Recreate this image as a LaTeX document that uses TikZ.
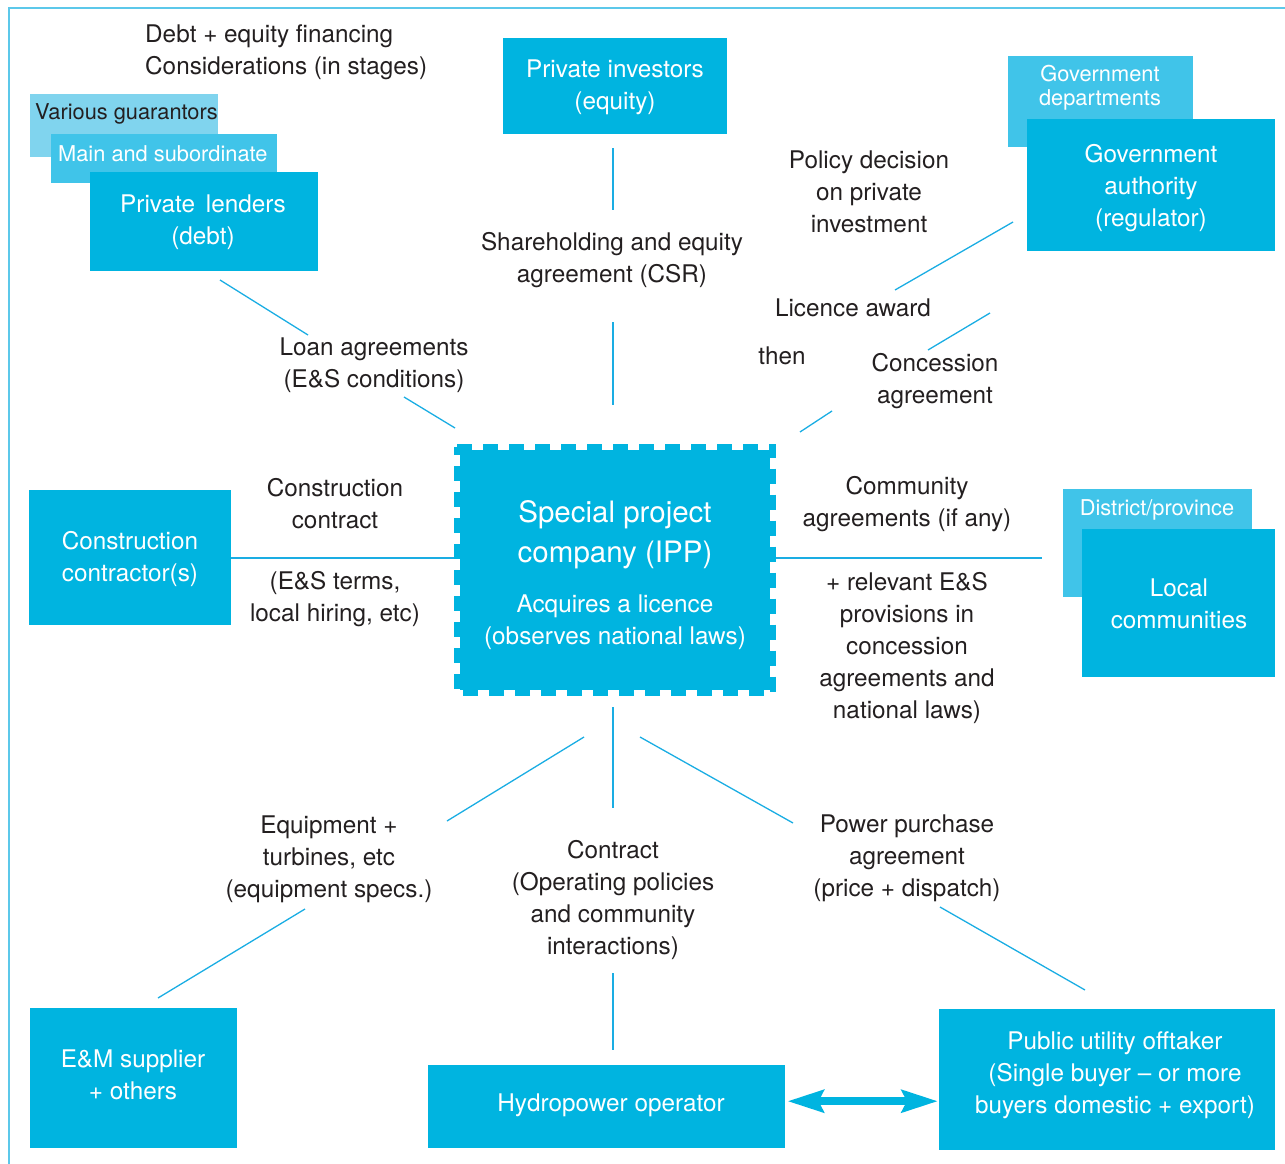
\documentclass[tikz,border=0pt]{standalone}
\usepackage{fontspec}
\setmainfont{TeX Gyre Heros}
\usetikzlibrary{arrows.meta,calc}
\definecolor{mainblue}{RGB}{0,180,224}
\definecolor{midblue}{RGB}{64,196,233}
\definecolor{paleblue}{RGB}{128,212,238}
\definecolor{lineblue}{RGB}{26,173,227}
\definecolor{framec}{RGB}{92,200,234}
\definecolor{txt}{RGB}{35,31,32}
\newcommand\fsN{\fontsize{24.3}{32}\selectfont}
\newcommand\fsS{\fontsize{21.8}{24}\selectfont}
\newcommand\fsL{\fontsize{29.5}{40}\selectfont}
\tikzset{
  box/.style={fill=mainblue, text=white, inner sep=0pt, align=center, font=\fsN, anchor=north west},
  lbl/.style={text=txt, align=center, inner sep=0pt, font=\fsN, yshift=-1.5pt},
  wlbl/.style={text=white, align=center, inner sep=0pt, font=\fsN, yshift=-1.5pt},
  conn/.style={draw=lineblue, line width=1.3pt},
}
\begin{document}
\begin{tikzpicture}[x=1pt,y=-1pt]
\useasboundingbox (0,0) rectangle (1285,1164);
% frame
\coordinate (fbl) at (9,1164);
\coordinate (ftl) at (9,8);
\coordinate (ftr) at (1285,8);
\draw[framec, line width=2pt] (fbl) -- (ftl) -- (ftr);

% top-left financing
\node[lbl, align=left, anchor=west] (fin) at (145,51) {Debt + equity financing\\Considerations (in stages)};
\node[box, fill=paleblue, minimum width=188, minimum height=63] (guar) at (30,94) {};
\node[lbl, anchor=west, font=\fsS] (guart) at (35,112) {Various guarantors};
\node[box, fill=midblue, minimum width=226, minimum height=49] (subd) at (51,134) {};
\node[wlbl, anchor=west, font=\fsS] (subdt) at (58,152) {Main and subordinate};
\node[box, minimum width=228, minimum height=99] (lend) at (90,172) {};
\node[wlbl] (lendt) at (203,221) {Private\hspace{0.45em}lenders\\(debt)};

% private investors
\node[box, minimum width=224, minimum height=96] (inv) at (503,38) {};
\node[wlbl] (invt) at (615,86) {Private investors\\(equity)};

% government
\node[box, fill=midblue, minimum width=185, minimum height=91] (dept) at (1008,56) {};
\node[wlbl, font=\fsS] (deptt) at (1100,86) {Government\\departments};
\node[box, minimum width=248, minimum height=132] (gov) at (1027,119) {};
\node[wlbl] (govt) at (1151,187) {Government\\authority\\(regulator)};

% labels top
\node[lbl] (pol) at (869,190) {Policy decision\\on private\\investment};
\node[lbl] (lic) at (853,306) {Licence award};
\node[lbl] (then) at (782,354) {then};
\node[lbl] (conc) at (935,380) {Concession\\agreement};
\node[lbl] (share) at (612,259) {Shareholding and equity\\agreement (CSR)};
\node[lbl] (loan) at (374,364) {Loan agreements\\(E\&S conditions)};

% construction
\node[box, minimum width=202, minimum height=135] (cc) at (29,490) {};
\node[wlbl] (cct) at (130,557) {Construction\\contractor(s)};
\node[lbl] (ccl) at (335,502) {Construction\\contract};
\node[lbl] (ccl2) at (335,598) {(E\&S terms,\\local hiring, etc)};

% centre box
\node[box, minimum width=310, minimum height=240] (spc) at (460,450) {};
\draw[mainblue, line width=6pt, dash pattern=on 15pt off 11pt]
  ([shift={(-3,-3)}]spc.north west) -- ([shift={(3,-3)}]spc.north east) -- ([shift={(3,3)}]spc.south east) -- ([shift={(-3,3)}]spc.south west) -- cycle;
\node[wlbl, font=\fsL] (spct) at (615,533) {Special project\\company (IPP)};
\node[wlbl] (spct2) at (615,621) {Acquires a licence\\(observes national laws)};

% community
\node[lbl] (comm) at (907,503) {Community\\agreements (if any)};
\node[lbl] (comm2) at (907,646) {+ relevant E\&S\\provisions in\\concession\\agreements and\\national laws)};
\node[box, fill=midblue, minimum width=189, minimum height=108] (dist) at (1063,489) {};
\node[wlbl, font=\fsS] (distt) at (1157,508) {District/province};
\node[box, minimum width=193, minimum height=148] (loc) at (1082,529) {};
\node[wlbl] (loct) at (1179,602) {Local\\communities};

% bottom labels
\node[lbl] (equip) at (329,858) {Equipment +\\turbines, etc\\(equipment specs.)};
\node[lbl] (contr) at (613,898) {Contract\\(Operating policies\\and community\\interactions)};
\node[lbl] (ppa) at (907,857) {Power purchase\\agreement\\(price + dispatch)};

% bottom boxes
\node[box, minimum width=207, minimum height=140] (em) at (30,1008) {};
\node[wlbl] (emt) at (133,1073) {E\&M supplier\\+ others};
\node[box, minimum width=357, minimum height=83] (hyd) at (428,1065) {};
\node[wlbl] (hydt) at (611,1104) {Hydropower operator};
\node[box, minimum width=336, minimum height=141] (pub) at (939,1009) {};
\node[wlbl] (pubt) at (1115,1074) {Public utility offtaker\\(Single buyer -- or more\\buyers domestic + export)};

% connector coordinates
\coordinate (a1) at (613,148); \coordinate (a2) at (613,210);
\coordinate (a3) at (613,322); \coordinate (a4) at (613,405);
\coordinate (b1) at (220,280); \coordinate (b2) at (308,335);
\coordinate (b3) at (404,397); \coordinate (b4) at (455,428);
\coordinate (g1) at (895,290); \coordinate (g2) at (1013,222);
\coordinate (g3) at (928,350); \coordinate (g4) at (990,313);
\coordinate (g5) at (800,432); \coordinate (g6) at (832,411);
\coordinate (l1) at (454,558);
\coordinate (r0) at (776,558); \coordinate (r1) at (1042,558);
\coordinate (d1) at (613,707); \coordinate (d2) at (613,808);
\coordinate (e1) at (584,737); \coordinate (e2) at (447,821);
\coordinate (e3) at (305,909); \coordinate (e4) at (158,998);
\coordinate (p1) at (640,737); \coordinate (p2) at (793,823);
\coordinate (p3) at (940,907); \coordinate (p4) at (1085,990);
\coordinate (h1) at (613,973); \coordinate (h2) at (613,1050);

\draw[conn] (a1) -- (a2);
\draw[conn] (a3) -- (a4);
\draw[conn] (b1) -- (b2);
\draw[conn] (b3) -- (b4);
\draw[conn] (g1) -- (g2);
\draw[conn] (g3) -- (g4);
\draw[conn] (g5) -- (g6);
\draw[conn] (cc.east |- l1) -- (l1);
\draw[conn] (r0) -- (r1);
\draw[conn] (d1) -- (d2);
\draw[conn] (e1) -- (e2);
\draw[conn] (e3) -- (e4);
\draw[conn] (p1) -- (p2);
\draw[conn] (p3) -- (p4);
\draw[conn] (h1) -- (h2);

% double arrow
\draw[mainblue, line width=8pt, {Stealth[length=36pt,width=22pt,inset=5pt]}-{Stealth[length=36pt,width=22pt,inset=5pt]}]
  ([xshift=2pt,yshift=5.5pt]hyd.east) -- ([xshift=-1pt,yshift=5.5pt]hyd.east -| pub.west);
\end{tikzpicture}
\end{document}
